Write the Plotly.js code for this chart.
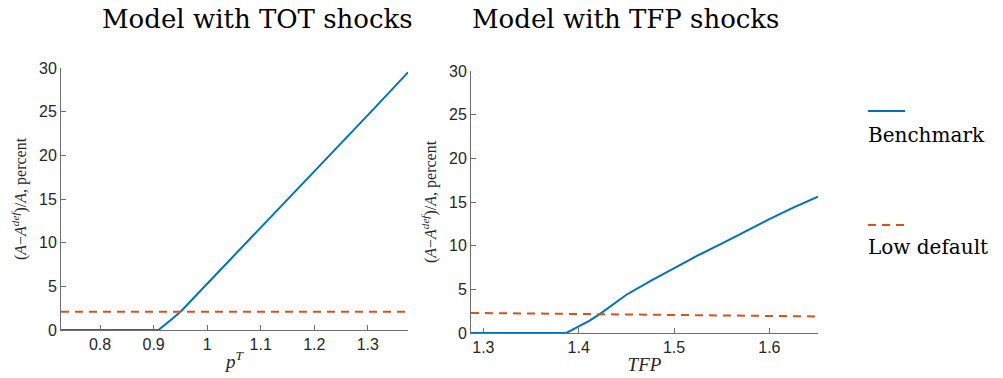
<!DOCTYPE html>
<html>
<head>
<meta charset="utf-8">
<script src="https://cdn.plot.ly/plotly-3.0.1.min.js"></script>
<style>html,body{margin:0;padding:0;background:#fff;}#chart{width:1003px;height:378px;}</style>
</head>
<body>
<div id="chart"></div>
<script>
// Data
const totX        = [0.727, 0.909, 0.936, 0.952, 1.0, 1.1, 1.2, 1.3, 1.375];
const totBench    = [0, 0, 1.34, 2.2, 5.3, 11.7, 18.1, 24.6, 29.5];
const totLowX     = [0.727, 1.375];
const totLow      = [2.1, 2.1];

const tfpX        = [1.287, 1.387, 1.4, 1.411, 1.422, 1.435, 1.45, 1.475, 1.5, 1.525, 1.551, 1.575, 1.6, 1.625, 1.651];
const tfpBench    = [0, 0, 0.75, 1.4, 2.17, 3.2, 4.38, 5.95, 7.43, 8.88, 10.29, 11.68, 13.04, 14.35, 15.6];
const tfpLowX     = [1.287, 1.38, 1.5, 1.6, 1.651];
const tfpLow      = [2.3, 2.2, 2.06, 1.94, 1.9];

const seriesNames = ["Benchmark", "Low default"];
const panelTitles = ["Model with TOT shocks", "Model with TFP shocks"];
const xTitles     = ["<i>p</i><sup><i>T</i></sup>", "<i>TFP</i>"];
const yTitle      = "(<i>A</i>−<i>A</i><sup><i>def</i></sup>)/<i>A</i>, percent";
const totTicks    = [0.8, 0.9, 1, 1.1, 1.2, 1.3];
const tfpTicks    = [1.3, 1.4, 1.5, 1.6];
const yTicks      = [0, 5, 10, 15, 20, 25, 30];

const BLUE = "#0072BD", RED = "#D95319";
const W = 1003, H = 378;
const px = v => v / W, py = v => 1 - v / H;

const traces = [
  {x: totX, y: totBench, xaxis: "x", yaxis: "y", mode: "lines", name: seriesNames[0],
   line: {color: BLUE, width: 2}},
  {x: totLowX, y: totLow, xaxis: "x", yaxis: "y", mode: "lines", name: seriesNames[1],
   line: {color: RED, width: 2, dash: "8px,6px"}},
  {x: tfpX, y: tfpBench, xaxis: "x2", yaxis: "y2", mode: "lines", name: seriesNames[0],
   line: {color: BLUE, width: 2}},
  {x: tfpLowX, y: tfpLow, xaxis: "x2", yaxis: "y2", mode: "lines", name: seriesNames[1],
   line: {color: RED, width: 2, dash: "8px,6px"}}
];

const tickFont = {family: "Liberation Sans, Arial, sans-serif", size: 16, color: "#262626"};
const serif = "Liberation Serif, Times New Roman, serif";
const wideSerif = "DejaVu Serif, serif";

function xax(range, ticks, dom, title) {
  return {domain: dom, range: range, tickvals: ticks, ticktext: ticks.map(String),
    showgrid: false, zeroline: false, showline: true, linecolor: "#6e6e6e", linewidth: 1,
    ticks: "inside", ticklen: 5, tickcolor: "#6e6e6e", tickfont: tickFont,
    title: {text: title, font: {family: serif, size: 19, color: "#262626"}, standoff: 2},
    fixedrange: true};
}
function yax(dom, anchor) {
  return {domain: dom, range: [0, 30], tickvals: yTicks, anchor: anchor,
    showgrid: false, zeroline: false, showline: true, linecolor: "#6e6e6e", linewidth: 1,
    ticks: "inside", ticklen: 5, tickcolor: "#6e6e6e", tickfont: tickFont,
    title: {text: yTitle, font: {family: serif, size: 16, color: "#262626"}, standoff: 8},
    fixedrange: true};
}

const layout = {
  width: W, height: H,
  margin: {l: 0, r: 0, t: 0, b: 0},
  paper_bgcolor: "#fff", plot_bgcolor: "#fff",
  showlegend: false,
  xaxis:  xax([0.727, 1.375], totTicks, [px(61), px(408)], xTitles[0]),
  yaxis:  yax([py(330), py(68)], "x"),
  xaxis2: Object.assign(xax([1.287, 1.651], tfpTicks, [px(471), px(818)], xTitles[1]), {anchor: "y2"}),
  yaxis2: yax([py(333), py(71)], "x2"),
  annotations: [
    {text: panelTitles[0], xref: "paper", yref: "paper", x: px(257), y: py(19), showarrow: false,
     xanchor: "center", yanchor: "middle", font: {family: wideSerif, size: 26, color: "#000"}},
    {text: panelTitles[1], xref: "paper", yref: "paper", x: px(625), y: py(19), showarrow: false,
     xanchor: "center", yanchor: "middle", font: {family: wideSerif, size: 26, color: "#000"}},
    {text: seriesNames[0], xref: "paper", yref: "paper", x: px(866), y: py(135), showarrow: false,
     xanchor: "left", yanchor: "middle", font: {family: wideSerif, size: 20, color: "#000"}},
    {text: seriesNames[1], xref: "paper", yref: "paper", x: px(866), y: py(247), showarrow: false,
     xanchor: "left", yanchor: "middle", font: {family: wideSerif, size: 20, color: "#000"}}
  ],
  shapes: [
    {type: "line", xref: "paper", yref: "paper", x0: px(868), x1: px(905), y0: py(111), y1: py(111),
     line: {color: BLUE, width: 2}},
    {type: "line", xref: "paper", yref: "paper", x0: px(868), x1: px(905), y0: py(225), y1: py(225),
     line: {color: RED, width: 2, dash: "8px,6px"}}
  ]
};

Plotly.newPlot("chart", traces, layout, {staticPlot: true, displayModeBar: false});
</script>
</body>
</html>
